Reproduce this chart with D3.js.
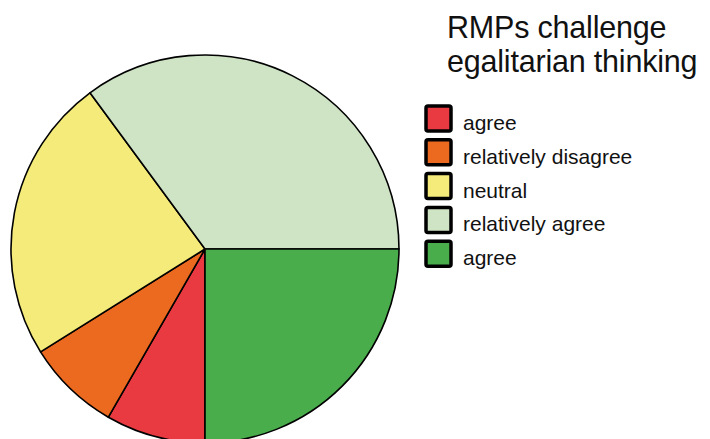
<!DOCTYPE html>
<html>
<head>
<meta charset="utf-8">
<script src="https://cdn.jsdelivr.net/npm/d3@7"></script>
<style>
  body { margin: 0; background: #fff; }
  svg { display: block; font-family: "Liberation Sans", Arial, sans-serif; }
</style>
</head>
<body>
<svg width="710" height="439"></svg>
<script>
// Datos del gráfico (porcentajes)
var categorias = ["agree", "relatively disagree", "neutral", "relatively agree", "agree"];
var valores = [8.3, 7.8, 23.8, 35.1, 25.0];
var colores = ["#E83A40", "#EB6A20", "#F5EB7A", "#CFE4C5", "#4AAD4C"];
var titulo = ["RMPs challenge", "egalitarian thinking"];

var datos = categorias.map(function (c, i) {
    return { nombre: c, valor: valores[i], color: colores[i] };
});

var svg = d3.select("svg");

// Tarta: empieza abajo y va en sentido horario
var radio = 194;
var g = svg.append("g").attr("transform", "translate(205,249)");

var pie = d3.pie()
    .sort(null)
    .startAngle(Math.PI)
    .endAngle(3 * Math.PI)
    .value(function (d) { return d.valor; });

var arc = d3.arc().innerRadius(0).outerRadius(radio);

g.selectAll("path")
    .data(pie(datos))
    .enter().append("path")
    .attr("d", arc)
    .attr("fill", function (d) { return d.data.color; })
    .attr("stroke", "#000")
    .attr("stroke-width", 1.6)
    .attr("stroke-linejoin", "round");

// Título
svg.append("g").selectAll("text")
    .data(titulo)
    .enter().append("text")
    .attr("x", 447)
    .attr("y", function (d, i) { return 38 + i * 34; })
    .attr("font-size", 30.5)
    .attr("letter-spacing", -0.2)
    .attr("fill", "#111")
    .text(function (d) { return d; });

// Leyenda
var y = d3.scaleBand()
    .domain(d3.range(datos.length))
    .range([103, 272])
    .paddingInner(0);

var filas = svg.append("g").selectAll("g")
    .data(datos)
    .enter().append("g")
    .attr("transform", function (d, i) { return "translate(0," + y(i) + ")"; });

filas.append("rect")
    .attr("x", 426)
    .attr("y", 3)
    .attr("width", 25)
    .attr("height", 25)
    .attr("rx", 2)
    .attr("fill", function (d) { return d.color; })
    .attr("stroke", "#000")
    .attr("stroke-width", 3.5);

filas.append("text")
    .attr("x", 463)
    .attr("y", 27)
    .attr("font-size", 21)
    .attr("fill", "#111")
    .text(function (d) { return d.nombre; });
</script>
</body>
</html>
